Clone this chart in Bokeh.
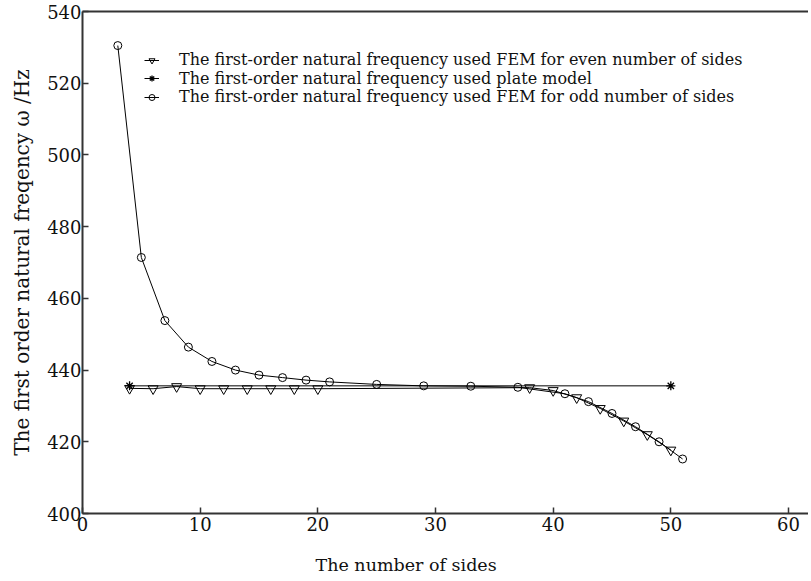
from bokeh.plotting import figure
from bokeh.models import Range1d, LinearAxis, Legend, LegendItem, FixedTicker, Title
from bokeh.embed import file_html
from bokeh.resources import INLINE

# ---- data ----
even_x = [4, 6, 8, 10, 12, 14, 16, 18, 20, 38, 40, 42, 44, 46, 48, 50]
even_y = [434.9, 434.8, 435.4, 434.8, 434.8, 434.8, 434.8, 434.8, 434.8,
          435.1, 434.3, 432.3, 429.3, 425.8, 422.0, 417.7]

plate_x = [4, 50]
plate_y = [435.6, 435.6]

odd_x = [3, 5, 7, 9, 11, 13, 15, 17, 19, 21, 25, 29, 33, 37, 41, 43, 45, 47, 49, 51]
odd_y = [530.5, 471.4, 453.8, 446.4, 442.4, 440.0, 438.6, 437.9, 437.2, 436.7,
         436.0, 435.6, 435.5, 435.2, 433.4, 431.2, 427.9, 424.2, 420.0, 415.2]

x_ticks = [0, 10, 20, 30, 40, 50, 60]
y_ticks = [400, 420, 440, 460, 480, 500, 520, 540]

labels = [
    "The first-order natural frequency used FEM for even number of sides",
    "The first-order natural frequency used plate model",
    "The first-order natural frequency used FEM for odd number of sides",
]
x_title = "The number of sides"
y_title = "The first order natural freqency \u03c9 /Hz"

FONT = "DejaVu Serif"
INK = "#111111"

W, H = 808, 577
BL, BR, BT, BB = 82, 0, 11, 64
FH = H - BT - BB

p = figure(width=W, height=H,
           x_range=Range1d(0, 61.7), y_range=Range1d(400, 540),
           output_backend="svg", toolbar_location=None,
           min_border_left=BL, min_border_right=BR, min_border_top=BT, min_border_bottom=BB,
           x_axis_location=None, y_axis_location=None)
p.outline_line_color = None
p.grid.visible = False
p.background_fill_color = "white"
p.border_fill_color = "white"

xaxis = LinearAxis(ticker=FixedTicker(ticks=x_ticks))
yaxis = LinearAxis(ticker=FixedTicker(ticks=y_ticks), axis_label=y_title)
top = LinearAxis(ticker=FixedTicker(ticks=[]))
for ax in (xaxis, yaxis, top):
    ax.axis_line_color = "#333333"
    ax.axis_line_width = 2
    ax.major_tick_line_color = "#333333"
    ax.major_tick_line_width = 1.5
    ax.major_tick_in = 6
    ax.major_tick_out = 0
    ax.minor_tick_line_color = None
    ax.major_label_text_font = FONT
    ax.major_label_text_color = INK
    ax.major_label_text_font_size = "18px"
xaxis.major_label_standoff = 3
yaxis.major_label_standoff = 1
yaxis.axis_label_text_font = FONT
yaxis.axis_label_text_font_size = "20px"
yaxis.axis_label_text_font_style = "normal"
yaxis.axis_label_text_color = INK
yaxis.axis_label_standoff = 10
top.major_tick_in = 0
top.major_label_text_font_size = "0px"

# spacer axis with a white (invisible) outward tick: pushes the x title down
spacer = LinearAxis(ticker=FixedTicker(ticks=[0]))
spacer.axis_line_color = None
spacer.major_tick_line_color = "white"
spacer.minor_tick_line_color = None
spacer.major_tick_in = 0
spacer.major_tick_out = 19
spacer.major_label_standoff = 0
spacer.major_label_overrides = {0: ""}
spacer.major_label_text_font_size = "0px"

p.add_layout(xaxis, "below")
p.add_layout(spacer, "below")
p.add_layout(Title(text=x_title, align="left", offset=233, text_font=FONT,
                   text_font_size="17.5px", text_font_style="normal",
                   text_color=INK, standoff=0), "below")
p.add_layout(yaxis, "left")
p.add_layout(top, "above")

# ---- series ----
l_even = p.line(even_x, even_y, line_color="black", line_width=1)
m_even = p.scatter(even_x, even_y, marker="inverted_triangle", size=10,
                   line_color="black", fill_alpha=0, line_width=1)
l_plate = p.line(plate_x, plate_y, line_color="black", line_width=1)
m_plate = p.scatter(plate_x, plate_y, marker="asterisk", size=9,
                    line_color="black", line_width=1.3)
l_odd = p.line(odd_x, odd_y, line_color="black", line_width=1)
m_odd = p.scatter(odd_x, odd_y, marker="circle", size=8,
                  line_color="black", fill_alpha=0, line_width=1)

# one legend per row so each row can be placed where the reference has it
row_centers = [48.2, 66.8, 85.4]   # px below the frame top
row_h = 20
pairs = [(l_even, m_even), (l_plate, m_plate), (l_odd, m_odd)]
for lab, (ln, mk), c in zip(labels, pairs, row_centers):
    lg = Legend(items=[LegendItem(label=lab, renderers=[ln, mk])],
                location=(62, FH - c - row_h / 2))
    lg.border_line_color = None
    lg.background_fill_alpha = 0
    lg.padding = 0
    lg.margin = 0
    lg.spacing = 0
    lg.glyph_width = 15
    lg.glyph_height = 16
    lg.label_height = 16
    lg.label_standoff = 20
    lg.label_text_font = FONT
    lg.label_text_font_size = "16px"
    lg.label_text_color = INK
    p.add_layout(lg, "center")

open("out.html", "w").write(file_html(p, INLINE))
